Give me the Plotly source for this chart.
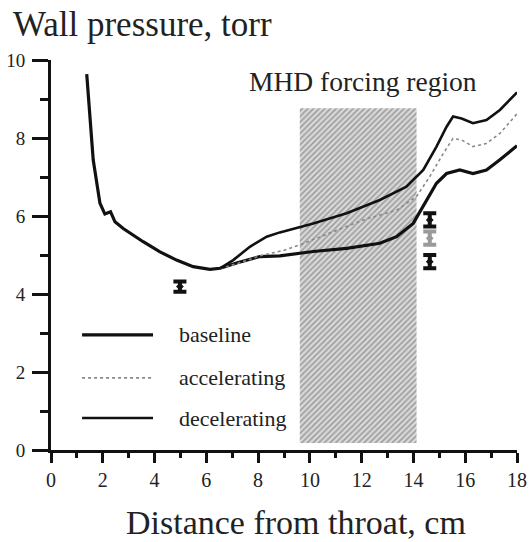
import plotly.graph_objects as go

# shared part (all runs identical up to ~6.5 cm)
x_common = [1.38, 1.63, 1.89, 2.08, 2.3, 2.47, 2.79, 3.56, 4.21, 4.85, 5.49, 6.14, 6.53]
y_common = [9.64, 7.44, 6.33, 6.05, 6.11, 5.85, 5.68, 5.34, 5.08, 4.87, 4.70, 4.63, 4.66]

x_decel = [7.04, 7.68, 8.33, 8.84, 10.13, 11.42, 12.7, 13.73, 14.38, 14.89, 15.28, 15.53, 15.86, 16.3, 16.82, 17.34, 17.9, 18.0]
y_decel = [4.87, 5.21, 5.47, 5.58, 5.81, 6.07, 6.41, 6.75, 7.18, 7.78, 8.29, 8.55, 8.50, 8.38, 8.46, 8.72, 9.10, 9.17]

x_accel = [7.2, 8.07, 9.0, 9.61, 10.77, 12.06, 13.35, 14.12, 14.63, 15.15, 15.53, 15.86, 16.3, 16.82, 17.34, 17.9, 18.0]
y_accel = [4.78, 4.98, 5.12, 5.26, 5.56, 5.90, 6.15, 6.50, 7.01, 7.60, 7.99, 7.95, 7.78, 7.86, 8.12, 8.55, 8.62]

x_base = [7.2, 8.07, 8.84, 10.13, 11.42, 12.7, 13.35, 13.99, 14.5, 14.89, 15.28, 15.79, 16.3, 16.82, 17.34, 17.9, 18.0]
y_base = [4.80, 4.96, 4.98, 5.09, 5.17, 5.30, 5.47, 5.81, 6.41, 6.84, 7.09, 7.18, 7.09, 7.18, 7.44, 7.74, 7.80]

# uncertainty markers
err_x = [4.98, 14.63, 14.63, 14.63]
err_y = [4.19, 5.90, 5.43, 4.83]
err_e = [0.13, 0.17, 0.17, 0.17]
err_col = ["#111", "#111", "#9a9a9a", "#111"]

# MHD forcing region
mhd_x0, mhd_x1 = 9.61, 14.12
mhd_y0, mhd_y1 = 0.18, 8.76

# in-plot legend (key line from/to, label x, rows)
series_names = ["baseline", "accelerating", "decelerating"]
series_colors = ["#111", "#888", "#111"]
series_widths = [3.2, 1.6, 2.6]
series_dash = ["solid", "dot", "solid"]
legend_x = [1.2, 3.94, 4.86]
legend_y = [2.95, 1.85, 0.82]

serif = "Liberation Serif"
fig = go.Figure()

fig.add_trace(go.Bar(
    x=[(mhd_x0 + mhd_x1) / 2], y=[mhd_y1 - mhd_y0], base=[mhd_y0],
    width=[mhd_x1 - mhd_x0], showlegend=False, hoverinfo="skip",
    marker=dict(color="#c8c8c8", line=dict(width=0),
                pattern=dict(shape="/", fgcolor="#646464", bgcolor="#dadada",
                             size=4, solidity=0.45)),
))

curves = [
    (x_common + x_base, y_common + y_base),
    ([x_common[-1]] + x_accel, [y_common[-1]] + y_accel),
    ([x_common[-1]] + x_decel, [y_common[-1]] + y_decel),
]
for (cx, cy), nm, col, w, d in zip(curves, series_names, series_colors, series_widths, series_dash):
    fig.add_trace(go.Scatter(x=cx, y=cy, mode="lines", name=nm, showlegend=False,
                             line=dict(color=col, width=w, dash=d)))

for xe, ye, ee, ce in zip(err_x, err_y, err_e, err_col):
    fig.add_trace(go.Scatter(x=[xe], y=[ye], mode="markers", showlegend=False,
                             marker=dict(size=6, color=ce, symbol="diamond"),
                             error_y=dict(type="data", array=[ee], color=ce,
                                          thickness=4, width=6.5)))

# legend keys and labels
for nm, col, w, d, ly in zip(series_names, series_colors, series_widths, series_dash, legend_y):
    fig.add_shape(type="line", x0=legend_x[0], x1=legend_x[1], y0=ly, y1=ly,
                  xref="x", yref="y", line=dict(color=col, width=w, dash=d))
    fig.add_annotation(text=nm, x=legend_x[2], y=ly, xref="x", yref="y",
                       xanchor="left", yanchor="middle", showarrow=False,
                       font=dict(family=serif, size=22, color="#222"))

fig.add_annotation(text="MHD forcing region", x=12.05, y=9.44, xref="x", yref="y",
                   showarrow=False, font=dict(family=serif, size=27.5, color="#222"))

# x-axis title (as annotation so it can sit where the reference has it)
fig.add_annotation(text="Distance from throat, cm", x=0.526, y=-0.185, xref="paper", yref="paper",
                   xanchor="center", yanchor="middle", showarrow=False,
                   font=dict(family=serif, size=34, color="#222"))

axis_common = dict(showgrid=False, zeroline=False, showline=True, linecolor="#111",
                   linewidth=3, ticks="outside", tickcolor="#111", tickwidth=3,
                   ticklabeloverflow="allow", automargin=False)

fig.update_layout(
    width=531, height=542,
    margin=dict(l=51, r=14, t=60, b=92, autoexpand=False),
    paper_bgcolor="white", plot_bgcolor="white",
    title=dict(text="Wall pressure, torr", x=0.0245, xanchor="left", y=0.978, yanchor="top",
               font=dict(family=serif, size=35, color="#222")),
    xaxis=dict(range=[0, 18], dtick=2, ticklen=10, **axis_common,
               tickfont=dict(family=serif, size=20, color="#222"),
               minor=dict(dtick=1, ticklen=5, tickwidth=3, ticks="outside", tickcolor="#111")),
    yaxis=dict(range=[0, 10], dtick=2, ticklen=16, ticklabelstandoff=3, **axis_common,
               tickfont=dict(family=serif, size=19, color="#222"),
               minor=dict(dtick=1, ticklen=8, tickwidth=3, ticks="outside", tickcolor="#111")),
    showlegend=False,
)

# remove the default 8px body margin so the 531x542 figure fills the window exactly
fig.write_html("out.html", config={"displayModeBar": False},
               post_script="document.body.style.margin='0';")
